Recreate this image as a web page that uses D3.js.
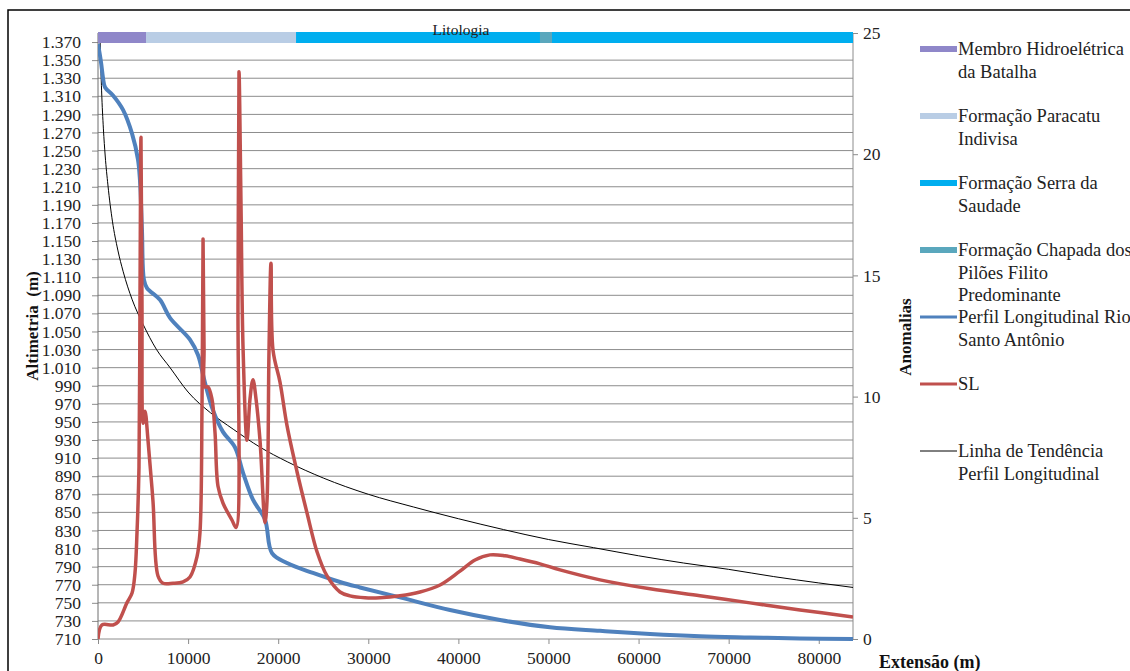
<!DOCTYPE html>
<html>
<head>
<meta charset="utf-8">
<script src="https://cdn.jsdelivr.net/npm/d3@7"></script>
<style>
  body { margin: 0; background: #fff; }
  svg { display: block; font-family: "Liberation Serif", "Times New Roman", serif; }
</style>
</head>
<body>
<svg></svg>
<script>
// longitudinal profile (m) vs distance (m)
const profileDist = [0, 330, 560, 780, 1670, 2780, 3770, 4440, 4660, 4880, 5100, 5440, 6880, 7990, 10210, 11100, 11880, 12760, 13870, 15200, 16090, 17200, 18540, 19310, 20980, 23860, 26860, 29080, 33520, 39070, 44620, 50170, 55720, 61270, 66820, 72370, 77910, 83800];
const profileAlt = [1368, 1348, 1330, 1320, 1311, 1295, 1269, 1240, 1217, 1162, 1107, 1098, 1085, 1065, 1041, 1024, 993, 963, 939, 922, 894, 864, 842, 805, 794, 783, 773, 767, 756, 742, 731, 723, 719, 715.5, 713, 711.7, 710.6, 710];

// trend line of the profile
const trendDist = [230, 400, 600, 800, 1100, 1600, 2200, 2800, 3800, 5000, 6500, 8000, 10000, 12500, 15000, 18000, 21000, 25000, 30000, 35000, 40000, 45000, 50000, 55000, 60000, 65000, 70000, 75000, 80000, 83800];
const trendAlt = [1372, 1316, 1274, 1244, 1212, 1172, 1140, 1116, 1085, 1058, 1030, 1010, 983, 960, 942, 922, 906, 888, 870, 856, 843, 831, 820, 811, 802, 794, 787, 779, 772, 767];

// SL anomalies (right axis)
const slDist = [0, 440, 1670, 2220, 3220, 3780, 4100, 4330, 4550, 4660, 4770, 4880, 5000, 5220, 5550, 6100, 6660, 7220, 8330, 9440, 10210, 10990, 11320, 11550, 11660, 11770, 11880, 12210, 12650, 12990, 13320, 13880, 14880, 15320, 15540, 15650, 15870, 16100, 16540, 16870, 17200, 17540, 17980, 18540, 18760, 18980, 19200, 19430, 20200, 20980, 22090, 23200, 24310, 25420, 26860, 27970, 29630, 31300, 33520, 35740, 37960, 40180, 41850, 43510, 45180, 46840, 49060, 51280, 55720, 61270, 66820, 72370, 77920, 83800];
const slValue = [0, 0.58, 0.58, 0.7, 1.5, 1.9, 2.7, 4.4, 7.1, 14, 20.7, 14, 8.9, 9.4, 8.2, 5.7, 2.6, 2.3, 2.3, 2.36, 2.56, 3.4, 4.4, 9.9, 16.5, 12, 10.4, 10.4, 9.9, 8.5, 6.3, 5.6, 4.9, 4.6, 14, 23.4, 18, 12, 8.2, 9.9, 10.7, 9.9, 8.2, 4.8, 5.7, 11.9, 15.5, 11.9, 10.6, 8.8, 6.9, 5.2, 3.6, 2.6, 1.94, 1.78, 1.7, 1.7, 1.78, 1.94, 2.23, 2.8, 3.26, 3.47, 3.43, 3.3, 3.1, 2.85, 2.44, 2.07, 1.78, 1.49, 1.2, 0.91];

// lithology band
const lithoNames = ["Membro Hidroelétrica da Batalha", "Formação Paracatu Indivisa", "Formação Serra da Saudade", "Formação Chapada dos Pilões Filito Predominante"];
const lithoStart = [0, 5330, 21980, 49050];
const lithoEnd = [5330, 21980, 83800, 50390];
const lithoColors = ["#8f87c9", "#b9cde5", "#00aeef", "#5aa7bd"];
const lithoAlt = 1375;

// ticks
const yLeftTicks = d3.range(710, 1371, 20);
const yRightTicks = [0, 5, 10, 15, 20, 25];
const xTicks = [0, 10000, 20000, 30000, 40000, 50000, 60000, 70000, 80000];

const legendLabels = [
  ["Membro Hidroelétrica", "da Batalha"],
  ["Formação Paracatu", "Indivisa"],
  ["Formação Serra da", "Saudade"],
  ["Formação Chapada dos", "Pilões Filito", "Predominante"],
  ["Perfil Longitudinal Rio", "Santo Antônio"],
  ["SL"],
  ["Linha de Tendência", "Perfil Longitudinal"]
];

const width = 1130, height = 671;
const plot = { left: 98, right: 853, top: 33, bottom: 639 };
const serif = "Liberation Serif, Times New Roman, serif";

const svg = d3.select("svg").attr("width", width).attr("height", height);

const x = d3.scaleLinear().domain([0, 83800]).range([plot.left, plot.right]);
const yL = d3.scaleLinear().domain([710, 1380]).range([plot.bottom, plot.top]);
const yR = d3.scaleLinear().domain([0, 25]).range([plot.bottom, plot.top]);

const ptFormat = d3.formatLocale({ decimal: ",", thousands: ".", grouping: [3], currency: ["R$", ""] }).format(",");

// outer frame
svg.append("path")
  .attr("d", `M8,${height} V10 H${width}`)
  .attr("fill", "none")
  .attr("stroke", "#000")
  .attr("stroke-width", 1.5);

// gridlines
svg.append("g")
  .selectAll("line")
  .data(yLeftTicks)
  .join("line")
  .attr("x1", plot.left).attr("x2", plot.right)
  .attr("y1", d => yL(d)).attr("y2", d => yL(d))
  .attr("stroke", "#8c8c8c")
  .attr("stroke-width", 1);

// right border / axis
svg.append("line")
  .attr("x1", plot.right).attr("x2", plot.right)
  .attr("y1", plot.top).attr("y2", plot.bottom)
  .attr("stroke", "#8c8c8c");

function styleAxis(g) {
  g.attr("font-family", serif).attr("font-size", 17.5);
  g.select(".domain").remove();
  g.selectAll(".tick line").attr("stroke", "#8c8c8c");
  g.selectAll("text").attr("fill", "#222");
}

// left axis
const leftAxis = svg.append("g")
  .attr("transform", `translate(${plot.left},0)`)
  .call(d3.axisLeft(yL).tickValues(yLeftTicks).tickFormat(ptFormat).tickSize(6).tickPadding(11))
  .call(styleAxis);
leftAxis.append("line")
  .attr("y1", plot.top).attr("y2", plot.bottom)
  .attr("stroke", "#6e6e6e");

// right axis
svg.append("g")
  .attr("transform", `translate(${plot.right},0)`)
  .call(d3.axisRight(yR).tickValues(yRightTicks).tickSize(5).tickPadding(5))
  .call(styleAxis);

// bottom axis
svg.append("g")
  .attr("transform", `translate(0,${plot.bottom})`)
  .call(d3.axisBottom(x).tickValues(xTicks).tickFormat(d3.format("d")).tickSize(5).tickPadding(8))
  .call(styleAxis);

// clip for the series
svg.append("clipPath").attr("id", "plotclip")
  .append("rect")
  .attr("x", plot.left).attr("y", plot.top)
  .attr("width", plot.right - plot.left).attr("height", plot.bottom - plot.top + 2);

const series = svg.append("g").attr("clip-path", "url(#plotclip)");

// trend line
const trendLine = d3.line()
  .x((d, i) => x(trendDist[i]))
  .y(d => yL(d))
  .curve(d3.curveMonotoneX);
series.append("path")
  .attr("d", trendLine(trendAlt))
  .attr("fill", "none")
  .attr("stroke", "#000")
  .attr("stroke-width", 1);

// profile
const profileLine = d3.line()
  .x((d, i) => x(profileDist[i]))
  .y(d => yL(d))
  .curve(d3.curveCatmullRom.alpha(0.5));
series.append("path")
  .attr("d", profileLine(profileAlt))
  .attr("fill", "none")
  .attr("stroke", "#4f81bd")
  .attr("stroke-width", 4)
  .attr("stroke-linejoin", "round");

// SL
const slLine = d3.line()
  .x((d, i) => x(slDist[i]))
  .y(d => yR(d))
  .curve(d3.curveCatmullRom.alpha(0.5));
series.append("path")
  .attr("d", slLine(slValue))
  .attr("fill", "none")
  .attr("stroke", "#c0504d")
  .attr("stroke-width", 3.5)
  .attr("stroke-linejoin", "round");

// lithology band
svg.append("g")
  .selectAll("line")
  .data(lithoNames)
  .join("line")
  .attr("x1", (d, i) => x(lithoStart[i]))
  .attr("x2", (d, i) => x(lithoEnd[i]))
  .attr("y1", yL(lithoAlt)).attr("y2", yL(lithoAlt))
  .attr("stroke", (d, i) => lithoColors[i])
  .attr("stroke-width", 11);

svg.append("text")
  .attr("x", 461)
  .attr("y", 35)
  .attr("text-anchor", "middle")
  .attr("font-family", serif)
  .style("font-size", "15.5px")
  .attr("fill", "#222")
  .text("Litologia");

// axis titles
svg.append("text")
  .attr("transform", `translate(38, 326) rotate(-90)`)
  .attr("text-anchor", "middle")
  .attr("font-family", serif)
  .style("font-size", "17px")
  .style("font-weight", "bold")
  .style("white-space", "pre")
  .attr("fill", "#111")
  .text("Altimetria  (m)");

svg.append("text")
  .attr("transform", `translate(911, 337) rotate(-90)`)
  .attr("text-anchor", "middle")
  .attr("font-family", serif)
  .style("font-size", "17px")
  .style("font-weight", "bold")
  .attr("fill", "#111")
  .text("Anomalias");

svg.append("text")
  .attr("x", 879)
  .attr("y", 668)
  .attr("font-family", serif)
  .style("font-size", "18px")
  .style("font-weight", "bold")
  .attr("fill", "#111")
  .text("Extensão (m)");

// legend
const legendStyle = [
  { color: lithoColors[0], w: 6 },
  { color: lithoColors[1], w: 6 },
  { color: lithoColors[2], w: 6 },
  { color: lithoColors[3], w: 6 },
  { color: "#4f81bd", w: 3 },
  { color: "#c0504d", w: 3 },
  { color: "#000", w: 1 }
];

const legend = svg.append("g").attr("font-family", serif);
const entries = legend.selectAll("g")
  .data(legendLabels)
  .join("g")
  .attr("transform", (d, i) => `translate(920, ${55 + i * 67})`);

entries.append("line")
  .attr("x1", 0).attr("x2", 37)
  .attr("y1", -6).attr("y2", -6)
  .attr("stroke", (d, i) => legendStyle[i].color)
  .attr("stroke-width", (d, i) => legendStyle[i].w);

entries.append("text")
  .attr("x", 38)
  .style("font-size", "18.5px")
  .attr("fill", "#222")
  .selectAll("tspan")
  .data(d => d)
  .join("tspan")
  .attr("x", 38)
  .attr("y", (d, i) => i * 22.5)
  .text(d => d);
</script>
</body>
</html>
